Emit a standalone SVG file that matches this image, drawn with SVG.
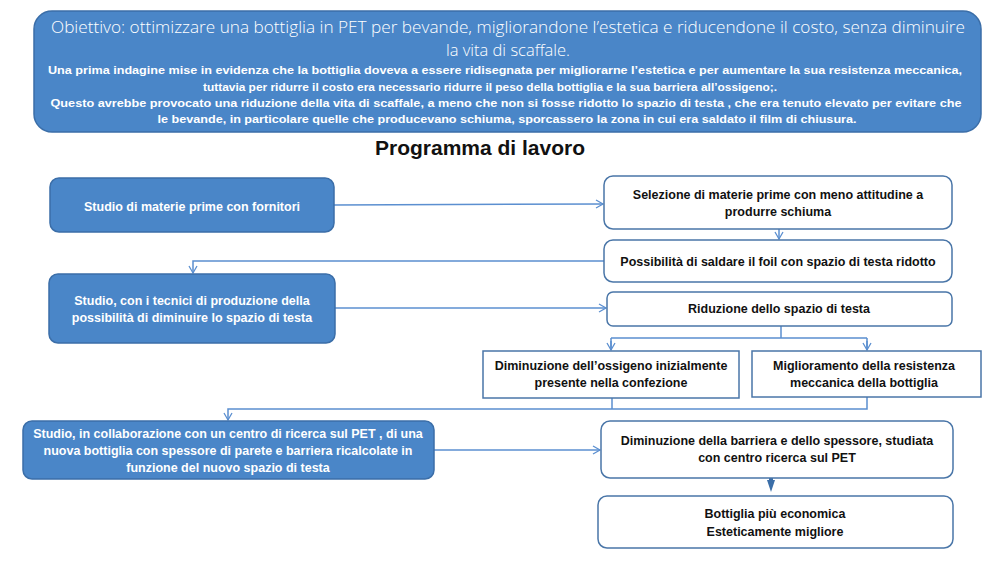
<svg xmlns="http://www.w3.org/2000/svg" width="1004" height="561" viewBox="0 0 1004 561">
<style>
.fill{fill:#4a86c8;stroke:#3b6ea8;stroke-width:1.5}
.wbox{fill:#ffffff;stroke:#4a76a8;stroke-width:1.5}
.wt{font-family:"Liberation Sans",Arial,sans-serif;font-size:12.5px;font-weight:bold;fill:#ffffff;text-anchor:middle}
.bt{font-family:"Liberation Sans",Arial,sans-serif;font-size:12.5px;font-weight:bold;fill:#111111;text-anchor:middle}
.ttl{font-family:"Open Sans","Liberation Sans",sans-serif;font-size:16.5px;font-weight:300;fill:#ffffff;text-anchor:middle}
.sm{font-family:"Liberation Sans",Arial,sans-serif;font-size:10px;font-weight:bold;fill:#ffffff;text-anchor:middle}
.con{fill:none;stroke:#5b8fd0;stroke-width:1.5}
</style>
<defs>
<marker id="arr" markerWidth="10" markerHeight="10" refX="8" refY="5" orient="auto" markerUnits="userSpaceOnUse">
<path d="M1,1 L8,5 L1,9" fill="none" stroke="#5b8fd0" stroke-width="1.3"/>
</marker>
<marker id="fat" markerWidth="12" markerHeight="10" refX="6" refY="4" orient="auto" markerUnits="userSpaceOnUse">
<path d="M0,0 L12,4 L0,8 Z" fill="#3b6ea8"/>
</marker>
</defs>
<rect width="1004" height="561" fill="#ffffff"/>

<g id="objective">
<rect class="fill" x="34" y="11" width="947" height="121" rx="18" ry="18"/>
<text class="ttl" x="508" y="33" textLength="914" lengthAdjust="spacingAndGlyphs">Obiettivo: ottimizzare una bottiglia in PET per bevande, migliorandone l’estetica e riducendone il costo, senza diminuire</text>
<text class="ttl" x="508" y="56">la vita di scaffale.</text>
<text class="sm" x="505" y="74" textLength="914" lengthAdjust="spacingAndGlyphs">Una prima  indagine  mise  in evidenza  che la bottiglia  doveva  a essere ridisegnata  per migliorarne  l’estetica e per aumentare  la sua resistenza meccanica,</text>
<text class="sm" x="490" y="91" textLength="574" lengthAdjust="spacingAndGlyphs">tuttavia  per ridurre il costo era necessario ridurre il peso della bottiglia  e  la sua barriera  all’ossigeno;.</text>
<text class="sm" x="506" y="107" textLength="911" lengthAdjust="spacingAndGlyphs">Questo avrebbe provocato  una riduzione  della vita di scaffale, a meno che non si fosse ridotto lo spazio di testa ,  che era tenuto elevato per evitare  che</text>
<text class="sm" x="507" y="123" textLength="699" lengthAdjust="spacingAndGlyphs">le bevande, in particolare  quelle che producevano schiuma,   sporcassero la zona in cui  era saldato il  film  di chiusura.</text>
</g>

<text id="heading" x="480" y="155" font-family="'Liberation Sans',Arial,sans-serif" font-size="21" font-weight="bold" fill="#111111" text-anchor="middle">Programma di lavoro</text>

<g id="connectors">
<path class="con" d="M334,205 L603,204" marker-end="url(#arr)"/>
<path class="con" d="M779,229 L779,239" marker-end="url(#arr)"/>
<path class="con" d="M604,261 L193,261 L193,273" marker-end="url(#arr)"/>
<path class="con" d="M335,308 L606,308" marker-end="url(#arr)"/>
<path class="con" d="M781,326 L781,338 M611,338 L867,338 M611,338 L611,350 M867,338 L867,350"/>
<path class="con" d="M611,341 L611,350" marker-end="url(#arr)"/>
<path class="con" d="M867,341 L867,350" marker-end="url(#arr)"/>
<path class="con" d="M612,398 L612,409 M867,397 L867,409 L228,409 L228,420" marker-end="url(#arr)"/>
<path class="con" d="M434,450 L600,450" marker-end="url(#arr)"/>
<path d="M771,477 L771,486" stroke="#3b6ea8" stroke-width="4" fill="none" marker-end="url(#fat)"/>
</g>

<g id="n-materie">
<rect class="fill" x="50" y="178" width="284" height="54" rx="9"/>
<text class="wt" x="192" y="211">Studio di materie prime con fornitori</text>
</g>
<g id="n-tecnici">
<rect class="fill" x="49" y="274" width="286" height="69" rx="9"/>
<text class="wt" x="192" y="305">Studio, con i tecnici di produzione  della</text>
<text class="wt" x="192" y="322">possibilità  di diminuire  lo spazio di testa</text>
</g>
<g id="n-ricerca">
<rect class="fill" x="23" y="421" width="411" height="58" rx="9"/>
<text class="wt" x="228" y="438">Studio, in  collaborazione  con un centro di ricerca  sul PET , di una</text>
<text class="wt" x="228" y="455">nuova  bottiglia  con spessore di parete e barriera  ricalcolate  in</text>
<text class="wt" x="228" y="472">funzione del nuovo spazio di testa</text>
</g>
<g id="n-selezione">
<rect class="wbox" x="604" y="176" width="348" height="53" rx="9"/>
<text class="bt" x="778" y="199">Selezione di materie  prime con meno attitudine a</text>
<text class="bt" x="778" y="216">produrre  schiuma</text>
</g>
<g id="n-foil">
<rect class="wbox" x="604" y="240" width="348" height="42" rx="9"/>
<text class="bt" x="778" y="266">Possibilità  di saldare il  foil con spazio di testa ridotto</text>
</g>
<g id="n-riduzione">
<rect class="wbox" x="607" y="292" width="345" height="34" rx="6"/>
<text class="bt" x="779" y="313">Riduzione dello spazio di testa</text>
</g>
<g id="n-ossigeno">
<rect class="wbox" x="483" y="351" width="256" height="47"/>
<text class="bt" x="611" y="370">Diminuzione  dell’ossigeno inizialmente</text>
<text class="bt" x="611" y="387">presente nella confezione</text>
</g>
<g id="n-resistenza">
<rect class="wbox" x="752" y="351" width="229" height="46"/>
<text class="bt" x="864" y="370">Miglioramento  della resistenza</text>
<text class="bt" x="864" y="387">meccanica della bottiglia</text>
</g>
<g id="n-barriera">
<rect class="wbox" x="601" y="421" width="352" height="57" rx="9"/>
<text class="bt" x="777" y="445">Diminuzione  della  barriera  e dello spessore, studiata</text>
<text class="bt" x="777" y="462">con centro ricerca sul PET</text>
</g>
<g id="n-bottiglia">
<rect class="wbox" x="598" y="496" width="355" height="52" rx="9"/>
<text class="bt" x="775" y="518">Bottiglia  più economica</text>
<text class="bt" x="775" y="536">Esteticamente  migliore</text>
</g>
</svg>
